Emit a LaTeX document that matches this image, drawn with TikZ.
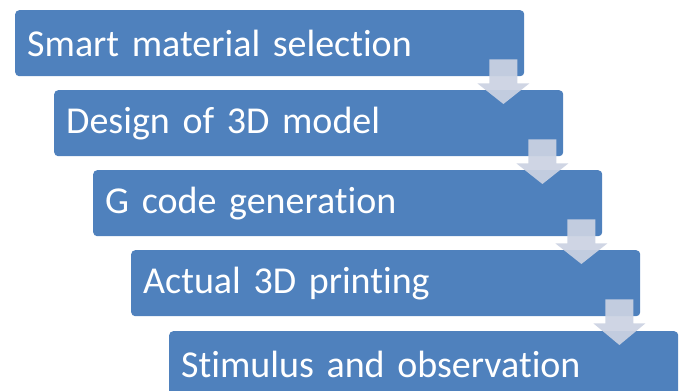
\documentclass[tikz,border=0pt]{standalone}
\usepackage{fontspec}
\setmainfont[Ligatures=NoCommon, WordSpace=0.8]{Carlito}
\usetikzlibrary{calc}
\definecolor{boxblue}{HTML}{4F81BD}
\definecolor{arrowgray}{HTML}{CBD2E2}

% down arrow from the lower right corner of one step into the next step
\newcommand\stepflow[2]{%
  \coordinate (c) at ($(#1.south east)+(-21,0)$);
  \coordinate (t) at ($(#2.north west)+(0,14)$);
  \path[flow] ($(c)+(-14,-17)$) -- ($(c)+(14,-17)$) -- ($(c)+(14,7)$)
    -- ($(c)+(26,7)$) -- (c |- t) -- ($(c)+(-26,7)$) -- ($(c)+(-14,7)$) -- cycle;
}

\begin{document}
\begin{tikzpicture}[x=1pt,y=-1pt,
  stage/.style={fill=boxblue, rounded corners=4pt, minimum width=509pt,
    minimum height=66pt, anchor=north west, text=white,
    font=\fontsize{38}{45}\selectfont, inner xsep=12pt, inner ysep=0pt,
    text width=485pt, align=left},
  flow/.style={fill=arrowgray, fill opacity=0.93}]
\useasboundingbox (0,0) rectangle (683,391);
\clip (0,0) rectangle (683,391);

\node[stage] (s1) at (15,10)    {Smart material selection};
\node[stage] (s2) at (54,90)    {Design of 3D model};
\node[stage] (s3) at (93,170)   {G code generation};
\node[stage] (s4) at (131,250)  {Actual 3D printing};
\node[stage] (s5) at (169,331)  {Stimulus and observation};

\stepflow{s1}{s2}
\stepflow{s2}{s3}
\stepflow{s3}{s4}
\stepflow{s4}{s5}
\end{tikzpicture}
\end{document}
